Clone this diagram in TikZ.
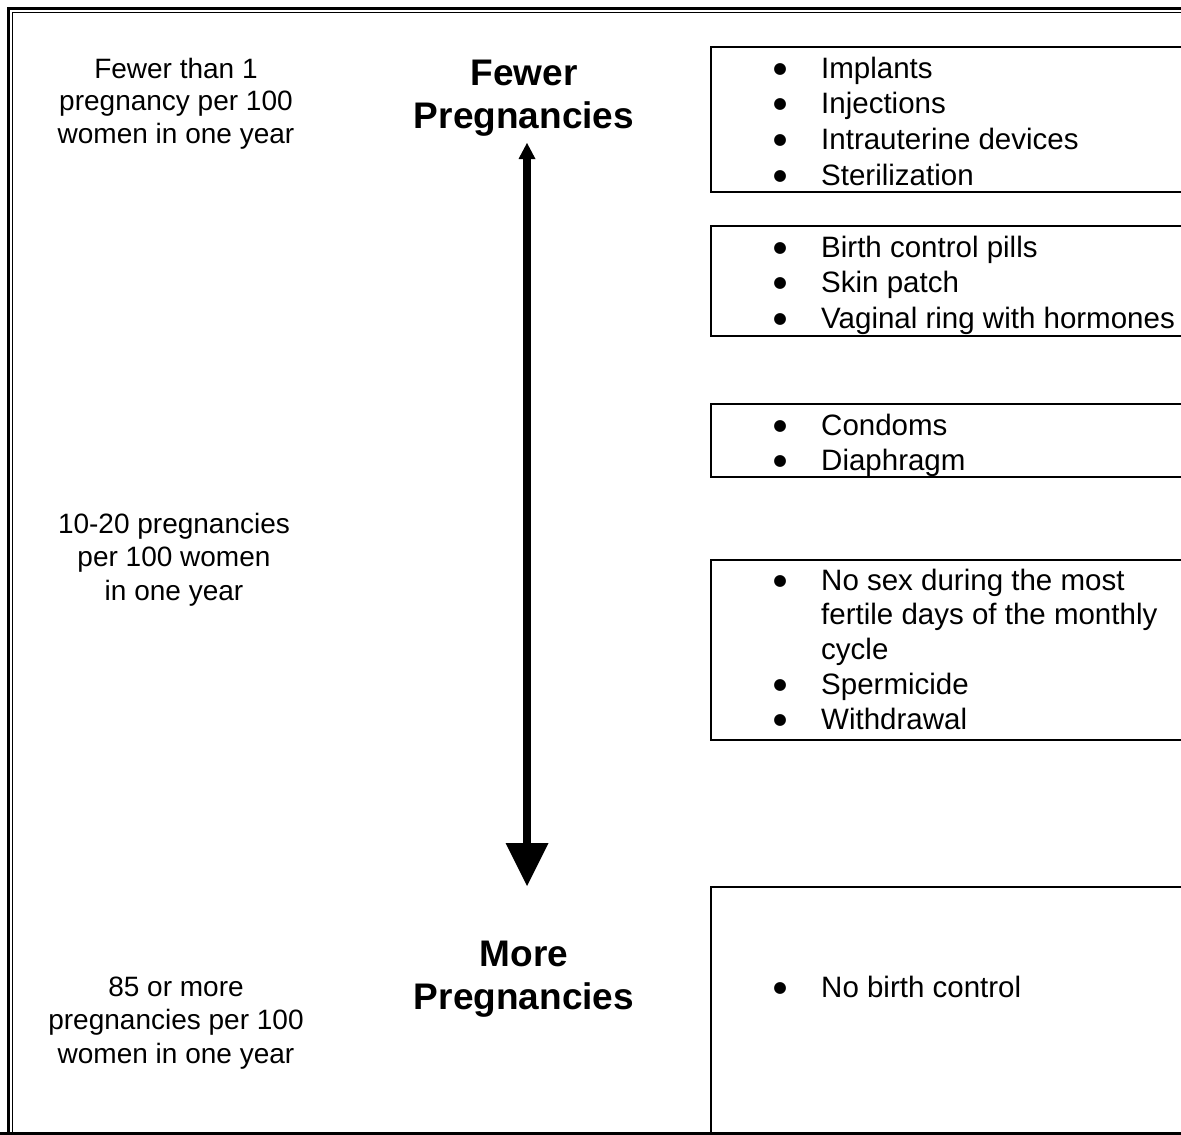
\documentclass[tikz,border=0pt]{standalone}
\usepackage{fontspec}
\setmainfont{Liberation Sans}
\newfontfamily\bulfont{DejaVu Sans}
\usetikzlibrary{arrows.meta}
\newcommand\bigbul{\hspace*{5pt}\makebox[0pt]{\raisebox{5pt}{\bulfont\fontsize{15.5}{0}\selectfont ●}}}
\begin{document}
\begin{tikzpicture}[x=1pt,y=-1pt,
  boxline/.style={line width=1.6pt},
  thickrule/.style={line width=3pt},
  thinrule/.style={line width=1.2pt},
  lefttxt/.style={anchor=base, inner sep=0pt, font=\fontsize{28}{33.5}\selectfont},
  headtxt/.style={anchor=base, inner sep=0pt, font=\bfseries\fontsize{37}{43}\selectfont},
  itemtxt/.style={anchor=base west, inner sep=0pt, font=\fontsize{29.5}{35.7}\selectfont}]
\clip (0,0) rectangle (1181,1135);
\fill[white] (0,0) rectangle (1181,1135);
% page border
\draw[thickrule] (8.5,1200) -- (8.5,8.5) -- (1200,8.5);
\draw[thinrule] (12.6,1200) -- (12.6,12.6) -- (1200,12.6);
\draw[thickrule] (0,1133.5) -- (1200,1133.5);
% boxes
\draw[boxline] (1200,47) -- (711,47) -- (711,192) -- (1200,192);
\draw[boxline] (1200,226) -- (711,226) -- (711,336) -- (1200,336);
\draw[boxline] (1200,404) -- (711,404) -- (711,477) -- (1200,477);
\draw[boxline] (1200,560) -- (711,560) -- (711,740) -- (1200,740);
\draw[boxline] (1200,887) -- (711,887) -- (711,1134);
% left texts
\node[lefttxt, font=\fontsize{28}{32.5}\selectfont] (l1) at (176,78) {\begin{tabular}[t]{@{}c@{}}Fewer than 1\\pregnancy per 100\\women in one year\end{tabular}};
\node[lefttxt] (l2) at (174,533) {\begin{tabular}[t]{@{}c@{}}10-20 pregnancies\\per 100 women\\in one year\end{tabular}};
\node[lefttxt] (l3) at (176,996) {\begin{tabular}[t]{@{}c@{}}85 or more\\pregnancies per 100\\women in one year\end{tabular}};
% headings
\node[headtxt] (hf) at (524,85) {\begin{tabular}[t]{@{}c@{}}Fewer\\Pregnancies\end{tabular}};
\node[headtxt] (hm) at (524,966) {\begin{tabular}[t]{@{}c@{}}More\\Pregnancies\end{tabular}};
% arrow
\coordinate (atop) at (527,143);
\coordinate (abot) at (527,886);
\draw[line width=8pt, {Triangle[length=16pt,width=17pt,line width=0pt]}-{Triangle[length=43pt,width=43pt,line width=0pt]}] (atop) -- (abot);
% item lists
\node[itemtxt] (i1) at (775,78) {\begin{tabular}[t]{@{}p{46pt}@{}l@{}}\bigbul & Implants\\ \bigbul & Injections\\ \bigbul & Intrauterine devices\\ \bigbul & Sterilization\end{tabular}};
\node[itemtxt] (i2) at (775,257) {\begin{tabular}[t]{@{}p{46pt}@{}l@{}}\bigbul & Birth control pills\\ \bigbul & Skin patch\\ \bigbul & Vaginal ring with hormones\end{tabular}};
\node[itemtxt] (i3) at (775,435) {\begin{tabular}[t]{@{}p{46pt}@{}l@{}}\bigbul & Condoms\\ \bigbul & Diaphragm\end{tabular}};
\node[itemtxt, font=\fontsize{29.5}{34.8}\selectfont] (i4) at (775,590) {\begin{tabular}[t]{@{}p{46pt}@{}l@{}}\bigbul & No sex during the most\\ & fertile days of the monthly\\ & cycle\\ \bigbul & Spermicide\\ \bigbul & Withdrawal\end{tabular}};
\node[itemtxt] (i5) at (775,997) {\begin{tabular}[t]{@{}p{46pt}@{}l@{}}\bigbul & No birth control\end{tabular}};
\end{tikzpicture}
\end{document}
